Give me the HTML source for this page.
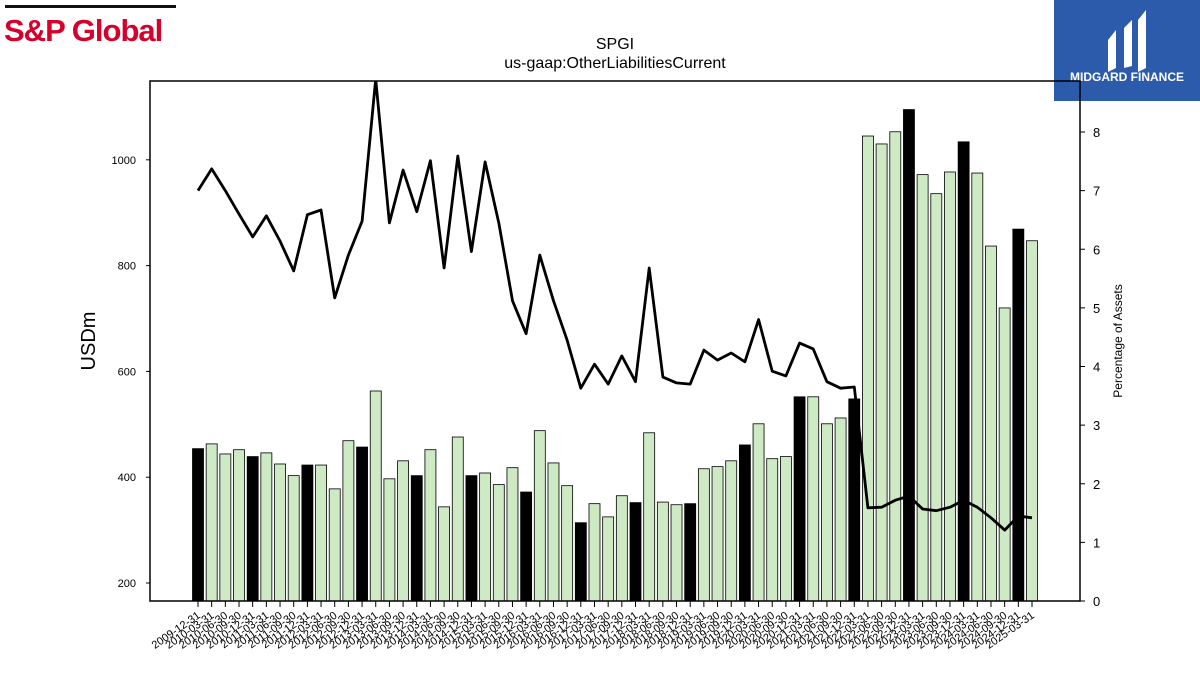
<!DOCTYPE html>
<html><head><meta charset="utf-8">
<style>
body{margin:0;width:1200px;height:675px;background:#fff;overflow:hidden;font-family:"Liberation Sans",sans-serif;}
svg text{font-family:"Liberation Sans","DejaVu Sans",sans-serif;}
</style></head>
<body>
<svg id="chart" width="1200" height="675" viewBox="0 0 1200 675">
  <g>
    <rect x="5" y="5" width="171" height="3" fill="#111"/>
    <text x="4" y="41" font-size="31" font-weight="bold" fill="#d6002a" letter-spacing="-1">S&amp;P Global</text>
  </g>
  <g>
    <rect x="1054" y="0" width="146" height="101" fill="#2d5bab"/>
    <path d="M1108 40 L1116 30 L1116 68 L1108 72 Z M1124 28 L1132 20 L1132 66 L1124 68 Z M1138 20 L1146 10 L1146 68 L1138 72 Z" fill="#fff"/>
    <text x="1127" y="81" font-size="12" font-weight="bold" fill="#fff" text-anchor="middle">MIDGARD FINANCE</text>
  </g>
  <text x="615" y="49" font-size="16" text-anchor="middle">SPGI</text>
  <text x="615" y="68" font-size="16" text-anchor="middle">us-gaap:OtherLiabilitiesCurrent</text>
  <text transform="translate(95,341) rotate(-90)" font-size="20" text-anchor="middle">USDm</text>
  <text transform="translate(1122,341) rotate(-90)" font-size="12" text-anchor="middle">Percentage of Assets</text>
  <g id="plot"></g>
</svg>
<script>
const categories=[];
(function(){const m=["03-31","06-30","09-30","12-31"];categories.push("2009-12-31");for(let y=2010;y<=2024;y++)for(const d of m)categories.push(y+"-"+d);categories.push("2025-03-31");})();
const barValues=[454,463,444,452,439,446,425,403,423,423,378,469,457,563,397,431,403,452,344,476,403,408,386,418,372,488,427,384,314,350,325,365,352,484,353,348,350,416,420,431,461,501,435,439,552,552,501,512,548,1045,1030,1053,1095,972,936,977,1034,975,837,720,869,847];
const pctValues=[7.0,7.37,7.0,6.6,6.21,6.57,6.14,5.63,6.59,6.67,5.17,5.9,6.48,8.9,6.45,7.35,6.64,7.51,5.68,7.59,5.96,7.49,6.45,5.12,4.56,5.9,5.12,4.45,3.63,4.04,3.7,4.18,3.74,5.68,3.82,3.72,3.7,4.28,4.11,4.23,4.08,4.8,3.92,3.84,4.4,4.3,3.74,3.63,3.65,1.59,1.6,1.72,1.79,1.57,1.54,1.6,1.72,1.6,1.42,1.21,1.45,1.42];
const leftTicks=[200,400,600,800,1000];
const rightTicks=[0,1,2,3,4,5,6,7,8];
const X0=150,X1=1080,Y0=81,Y1=601;
const lMin=166,lMax=1149,rMin=0,rMax=8.87;
const xs=i=>198+i*(1032-198)/(categories.length-1);
const yl=v=>Y1-(v-lMin)/(lMax-lMin)*(Y1-Y0);
const yr=v=>Y1-(v-rMin)/(rMax-rMin)*(Y1-Y0);
const NS="http://www.w3.org/2000/svg";
const g=document.getElementById("plot");
function mk(t,a){const e=document.createElementNS(NS,t);for(const k in a)e.setAttribute(k,a[k]);g.appendChild(e);return e;}
const cp=mk("clipPath",{id:"cp"});cp.appendChild(Object.assign(document.createElementNS(NS,"rect"),{}));
cp.firstChild.setAttribute("x",X0);cp.firstChild.setAttribute("y",Y0);cp.firstChild.setAttribute("width",X1-X0);cp.firstChild.setAttribute("height",Y1-Y0);
const bw=11;
barValues.forEach((v,i)=>{
  const r=mk("rect",{x:xs(i)-bw/2,y:yl(v),width:bw,height:Y1-yl(v),fill:(i%4===0)?"#000":"#cdeac4",stroke:"#000","stroke-width":0.8});
  
  
});
const pts=pctValues.map((v,i)=>xs(i).toFixed(1)+","+yr(v).toFixed(1)).join(" ");
const ln=mk("polyline",{points:pts,fill:"none",stroke:"#000","stroke-width":2.8,"clip-path":"url(#cp)","stroke-linejoin":"round"});


const fr=mk("rect",{x:X0,y:Y0,width:X1-X0,height:Y1-Y0,fill:"none",stroke:"#000","stroke-width":1.5});


leftTicks.forEach(v=>{
  mk("line",{x1:X0-4,x2:X0,y1:yl(v),y2:yl(v),stroke:"#000"});
  const t=mk("text",{x:X0-14,y:yl(v)+4,"font-size":11,"text-anchor":"end"});t.textContent=v;
  
  
});
rightTicks.forEach(v=>{
  mk("line",{x1:X1,x2:X1+5,y1:yr(v),y2:yr(v),stroke:"#000"});
  const t=mk("text",{x:X1+13,y:yr(v)+5,"font-size":13});t.textContent=v;
  
  
});
categories.forEach((c,i)=>{
  mk("line",{x1:xs(i),x2:xs(i),y1:Y1,y2:Y1+6,stroke:"#000"});
  const t=mk("text",{x:xs(i)+3,y:Y1+16,"font-size":11,"text-anchor":"end",transform:`rotate(-35 ${xs(i)+3} ${Y1+16})`});t.textContent=c;
  
  
});
</script>
</body></html>
